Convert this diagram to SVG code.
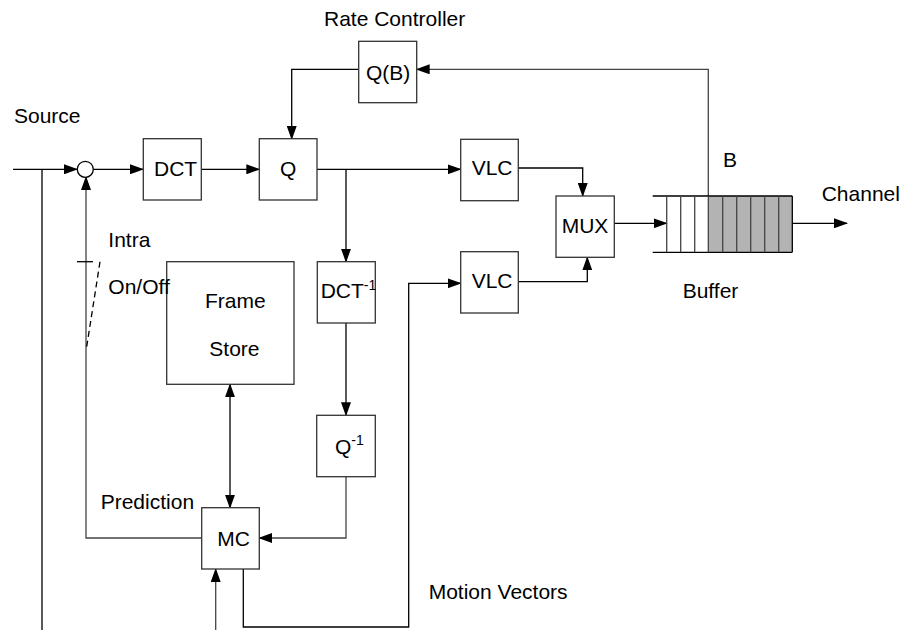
<svg xmlns="http://www.w3.org/2000/svg" width="906" height="630" viewBox="0 0 906 630">
<style>
.box{fill:#fff;stroke:#333;stroke-width:1.3}
.ln{fill:none;stroke:#000;stroke-width:1.3}
.gl{fill:none;stroke:#444;stroke-width:1.3}
text{font-family:"Liberation Sans",Arial,sans-serif;font-size:21px;fill:#000}
.sup{font-size:14px}
</style>
<defs>
<marker id="ah" markerUnits="userSpaceOnUse" markerWidth="14" markerHeight="10" refX="13" refY="5" orient="auto-start-reverse" viewBox="0 0 14 10">
<path d="M0,0 L14,5 L0,10 z" fill="#000"/>
</marker>
</defs>
<rect width="906" height="630" fill="#fff"/>

<g id="connectors">
<path class="ln" d="M13,169.3 H77" marker-end="url(#ah)"/>
<path class="ln" d="M42,169.3 V630"/>
<path class="ln" d="M93,169.3 H143" marker-end="url(#ah)"/>
<path class="ln" d="M201.3,169.3 H259.3" marker-end="url(#ah)"/>
<path class="ln" d="M317,169.3 H460.7" marker-end="url(#ah)"/>
<path class="ln" d="M346,169.3 V261.7" marker-end="url(#ah)"/>
<path class="ln" d="M346,323 V415.3" marker-end="url(#ah)"/>
<path class="gl" d="M346,476.7 V538 H259.3" marker-end="url(#ah)"/>
<path class="ln" d="M518.3,168 H582.7 V196" marker-end="url(#ah)"/>
<path class="ln" d="M518.3,281.7 H587.3 V257.3" marker-end="url(#ah)"/>
<path class="ln" d="M614.3,223.3 H666.7" marker-end="url(#ah)"/>
<path class="ln" d="M792.3,223.3 H847" marker-end="url(#ah)"/>
<path class="gl" d="M708.3,196 V69.3 H416.7" marker-end="url(#ah)"/>
<path class="ln" d="M358.7,69.3 H291.7 V139" marker-end="url(#ah)"/>
<path class="ln" d="M230,384.3 V507.7" marker-start="url(#ah)" marker-end="url(#ah)"/>
<path class="gl" d="M201.7,538 H86 V177" marker-end="url(#ah)"/>
<path class="ln" d="M86.7,346.7 L100,261.7" stroke-dasharray="6,4"/>
<path class="ln" d="M77,261.7 H93"/>
<path class="gl" d="M215.7,630 V569" marker-end="url(#ah)"/>
<path class="ln" d="M243.3,569 V627 H408.7 V283.3 H460.7" marker-end="url(#ah)"/>
</g>

<g id="sum">
<circle cx="85.3" cy="169.3" r="8" fill="#fff" stroke="#000" stroke-width="1.3"/>
</g>

<g id="dct">
<rect class="box" x="143.3" y="138.7" width="58" height="61.3"/>
<text x="154" y="176">DCT</text>
</g>
<g id="q">
<rect class="box" x="259.3" y="138.7" width="57.7" height="61.3"/>
<text x="288.2" y="176" text-anchor="middle">Q</text>
</g>
<g id="qb">
<rect class="box" x="358.7" y="41.3" width="58" height="61.4"/>
<text x="366" y="80">Q(B)</text>
</g>
<g id="vlc1">
<rect class="box" x="460.7" y="139.3" width="57.6" height="61.4"/>
<text x="471.7" y="175.3">VLC</text>
</g>
<g id="mux">
<rect class="box" x="556" y="196" width="58.3" height="61.3"/>
<text x="561.7" y="232.7">MUX</text>
</g>
<g id="vlc2">
<rect class="box" x="460.7" y="251.7" width="57.6" height="61.3"/>
<text x="471.7" y="288.3">VLC</text>
</g>
<g id="dctinv">
<rect class="box" x="317.3" y="261.7" width="58" height="61.3"/>
<text x="320.7" y="298.3">DCT<tspan class="sup" dy="-8.3">-1</tspan></text>
</g>
<g id="qinv">
<rect class="box" x="316.7" y="415.3" width="58.6" height="61.4"/>
<text x="335" y="454.3">Q<tspan class="sup" dy="-9.3">-1</tspan></text>
</g>
<g id="framestore">
<rect class="box" x="166.7" y="261.7" width="127.3" height="122.6"/>
<text x="205" y="308.3">Frame</text>
<text x="209.3" y="356">Store</text>
</g>
<g id="mc">
<rect class="box" x="201.7" y="507.7" width="57.6" height="61.3"/>
<text x="217.3" y="545.7">MC</text>
</g>
<g id="buffer">
<rect x="708.3" y="196" width="84" height="56.3" fill="#b3b3b3"/>
<path class="ln" d="M652.7,196 H792.3 M652.7,252.3 H792.3 M792.3,196 V252.3"/>
<path class="gl" d="M666.7,196 V252.3 M680.7,196 V252.3 M694.7,196 V252.3 M708.3,196 V252.3 M722.7,196 V252.3 M736.7,196 V252.3 M750.7,196 V252.3 M764.7,196 V252.3 M778.7,196 V252.3"/>
</g>

<g id="labels">
<text x="324" y="26">Rate Controller</text>
<text x="14" y="123">Source</text>
<text x="108.3" y="246.7">Intra</text>
<text x="108.3" y="294">On/Off</text>
<text x="100.7" y="509.3">Prediction</text>
<text x="428.7" y="599.3">Motion Vectors</text>
<text x="723" y="166.7">B</text>
<text x="821.7" y="201">Channel</text>
<text x="682.7" y="297.7">Buffer</text>
</g>
</svg>
